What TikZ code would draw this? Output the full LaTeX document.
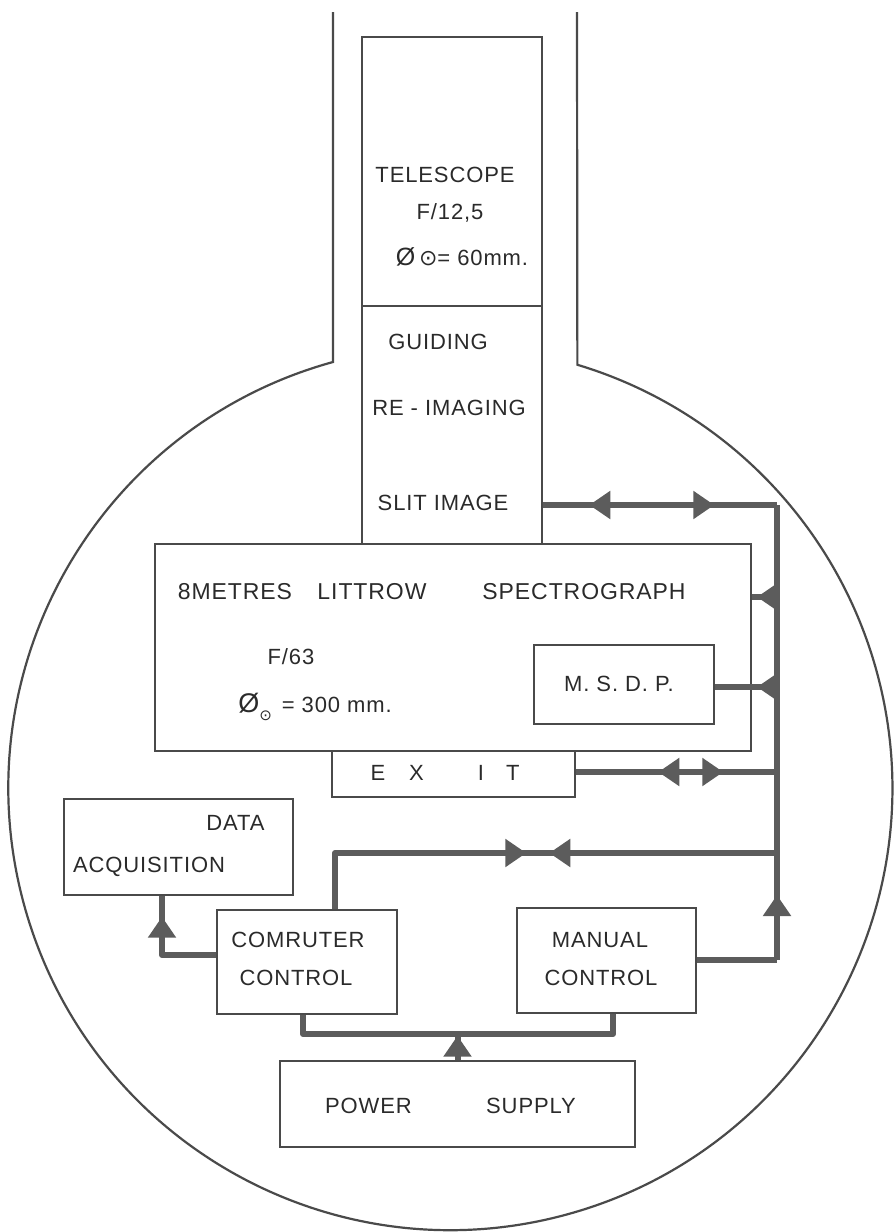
\documentclass[tikz,border=0pt]{standalone}
\usepackage{fontspec}
\setmainfont{Liberation Sans}[LetterSpace=4]
\newfontfamily\symfont{DejaVu Sans}
\usetikzlibrary{arrows.meta, decorations.markings}
\definecolor{inkgray}{HTML}{4A4A4A}
\definecolor{busgray}{HTML}{5C5C5C}
\definecolor{txtgray}{HTML}{2A2A2A}
\tikzset{
  unit/.style={
    rectangle, draw=inkgray, line width=2.6pt, inner sep=0pt,
  },
  outline/.style={draw=inkgray, line width=2.2pt},
  bus/.style={color=busgray, line width=6pt, line join=round},
  lbl/.style={text=txtgray, inner sep=0pt, font=\fontsize{22}{26}\selectfont},
  biglbl/.style={lbl, font=\fontsize{23}{27}\selectfont},
  >={Triangle[length=21pt, width=27pt]},
  fwd at/.style={postaction={decorate, decoration={markings,
      mark=at position #1 with {\arrow{>}}}}},
  rev at/.style={postaction={decorate, decoration={markings,
      mark=at position #1 with {\arrowreversed{>}}}}},
}

\begin{document}
\begin{tikzpicture}[x=1pt, y=-1pt]
\useasboundingbox (0,0) rectangle (896,1232);

% -- housing: neck and round body --------------------------------------
\draw[outline] (333,12) -- (333,362)
  arc[start angle=-105.4, end angle=-433.3, radius=442] -- (577,12);

% -- optical column -----------------------------------------------------
\node[unit, minimum width=180pt, minimum height=269pt] (tele)  at (452,171.5) {};
\node[unit, minimum width=180pt, minimum height=238pt] (relay) at (452,425) {};
\node[lbl] (tTele)  at (445,175) {TELESCOPE};
\node[lbl] (tTeleF) at (450,213) {F/12,5};
\node[lbl] (tTeleD) at (462,257) {{\fontsize{25}{25}\selectfont Ø}\,{\symfont ⊙}= 60mm.};
\node[lbl] (tGuide) at (438,342) {GUIDING};
\node[lbl] (tReim)  at (449,408) {RE - IMAGING};
\node[lbl] (tSlit)  at (443,503) {SLIT IMAGE};

% -- spectrograph and exit ----------------------------------------------
\node[unit, minimum width=596pt, minimum height=207pt] (spec) at (453,647.5) {};
\node[unit, minimum width=180pt, minimum height=79pt]  (msdp) at (624,684.5) {};
\node[unit, minimum width=243pt, minimum height=46pt]  (exit) at (453.5,774) {};
\node[biglbl] (tSpecA) at (235,592) {8METRES};
\node[biglbl] (tSpecB) at (372,592) {LITTROW};
\node[biglbl] (tSpecC) at (584,592) {SPECTROGRAPH};
\node[lbl] (tSpecF) at (291,657) {F/63};
\node[lbl] (tSpecD) at (315,707)
  {{\fontsize{27}{27}\selectfont Ø}\raisebox{-8pt}{\symfont\fontsize{15}{15}\selectfont ⊙}\hspace{10pt}= 300 mm.};
\node[lbl] (tMsdp) at (619,684) {M. S. D. P.};
\node[lbl] (tExit) at (445,773)
  {E\hspace{24pt}X\hspace{54pt}I\hspace{22pt}T};

% -- control and supply -------------------------------------------------
\node[unit, minimum width=229pt, minimum height=96pt]  (daq)    at (178.5,847) {};
\node[unit, minimum width=180pt, minimum height=104pt] (comp)   at (307,962) {};
\node[unit, minimum width=179pt, minimum height=105pt] (manual) at (606.5,960.5) {};
\node[unit, minimum width=355pt, minimum height=86pt]  (power)  at (457.5,1104) {};
\node[lbl] (tDaqA)  at (235.5,823) {DATA};
\node[lbl] (tDaqB)  at (149,867)   {ACQUISITION};
\node[lbl] (tCompA) at (298,940)   {COMRUTER};
\node[lbl] (tCompB) at (296,978)   {CONTROL};
\node[lbl] (tManA)  at (600,940)   {MANUAL};
\node[lbl] (tManB)  at (601,978)   {CONTROL};
\node[lbl] (tPowA)  at (368.5,1106) {POWER};
\node[lbl] (tPowB)  at (531,1106)   {SUPPLY};

% -- junctions on the signal bus ----------------------------------------
\coordinate (busT) at (777,505);
\coordinate (busS) at (777,597);
\coordinate (busM) at (777,687);
\coordinate (busE) at (777,772);
\coordinate (busC) at (777,853);
\coordinate (busB) at (777,960);
\coordinate (compUp) at (335,853);
\coordinate (daqIn)  at (162,955);
\coordinate (pwrL)   at (303,1034);
\coordinate (pwrR)   at (613,1034);

% -- connectors ---------------------------------------------------------
\draw[bus, rev at=46pt, fwd at=171pt] (relay.east |- busT) -- (busT);
\draw[bus, fwd at=65pt] (busB) -- (busT);
\draw[bus] (manual.east |- busB) -- (busB);
\draw[bus, fwd at=20pt] (busS) -- (spec.east |- busS);
\draw[bus, fwd at=20pt] (busM) -- (msdp.east |- busM);
\draw[bus, rev at=82pt, fwd at=147pt] (exit.east |- busE) -- (busE);
\draw[bus, fwd at=247pt, rev at=270pt] (compUp |- comp.north) -- (compUp) -- (busC);
\draw[bus, fwd at=92pt] (comp.west |- daqIn) -- (daqIn) -- (daqIn |- daq.south);
\draw[bus] (pwrL |- comp.south) -- (pwrL) -- (pwrR) -- (pwrR |- manual.south);
\draw[bus, fwd at=24pt] (power.north) -- (power.north |- pwrL);

\end{tikzpicture}
\end{document}
